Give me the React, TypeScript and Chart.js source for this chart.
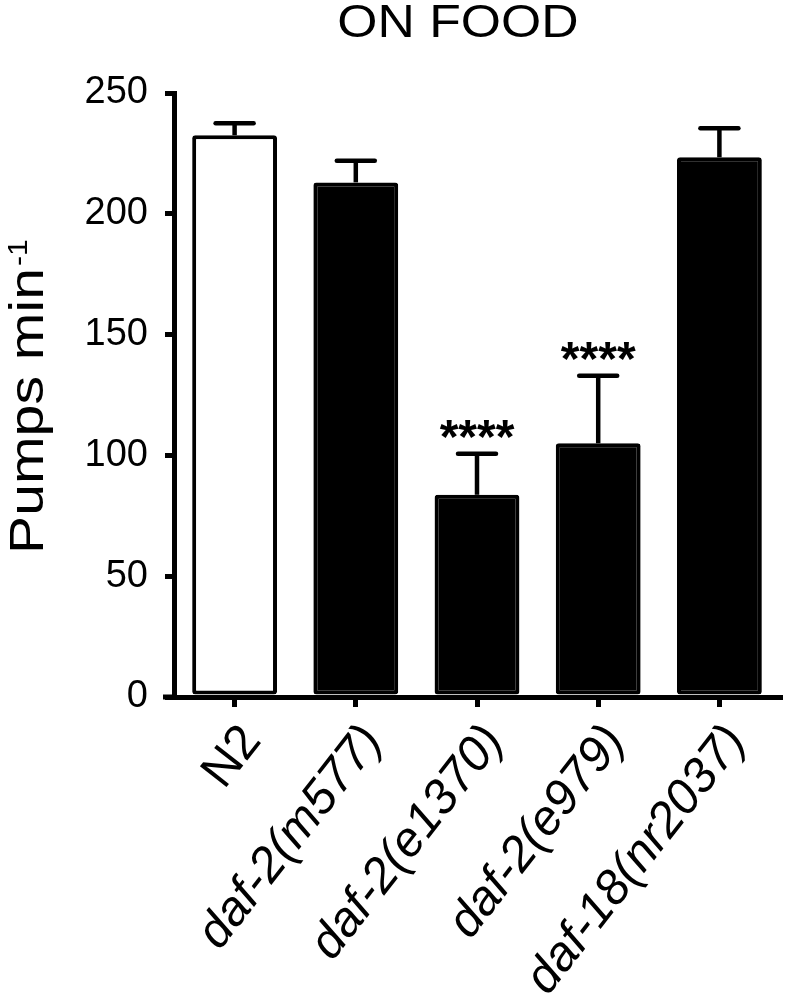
import React, { useEffect, useRef } from "react";
import { Chart, registerables } from "chart.js";

Chart.register(...registerables);

const categories = ["N2", "daf-2(m577)", "daf-2(e1370)", "daf-2(e979)", "daf-18(nr2037)"];
const italicLabels = [false, true, true, true, true];
const meanValues = [232.5, 213, 83.7, 105, 223.4];
const semValues = [5, 9, 17, 28, 12];
const significance = ["", "", "****", "****", ""];
const barFills = ["#ffffff", "#000000", "#000000", "#000000", "#000000"];
const yTickValues = [0, 50, 100, 150, 200, 250];

const FONT = "'Liberation Sans', Arial, Helvetica, sans-serif";
const LABEL_ANGLE = (52 * Math.PI) / 180;

const overlayPlugin = {
  id: "overlay",
  afterDatasetsDraw(chart: any) {
    const ctx = chart.ctx;
    const x = chart.scales.x;
    const y = chart.scales.y;
    ctx.save();
    ctx.strokeStyle = "#000";
    ctx.fillStyle = "#000";
    meanValues.forEach((m, i) => {
      const cx = x.getPixelForValue(i);
      const yBar = y.getPixelForValue(m);
      const yTop = y.getPixelForValue(m + semValues[i]);
      ctx.lineWidth = 4.5;
      ctx.lineCap = "butt";
      ctx.beginPath();
      ctx.moveTo(cx, yBar);
      ctx.lineTo(cx, yTop);
      ctx.stroke();
      ctx.lineCap = "round";
      ctx.beginPath();
      ctx.moveTo(cx - 19, yTop);
      ctx.lineTo(cx + 19, yTop);
      ctx.stroke();
      if (significance[i]) {
        ctx.font = `bold 48px ${FONT}`;
        ctx.textAlign = "center";
        ctx.textBaseline = "alphabetic";
        ctx.fillText(significance[i], cx, yTop - 1);
      }
    });
    ctx.restore();
  },
  afterDraw(chart: any) {
    const ctx = chart.ctx;
    const x = chart.scales.x;
    const y = chart.scales.y;
    const area = chart.chartArea;
    const axisY = y.getPixelForValue(0);
    ctx.save();
    ctx.fillStyle = "#000";
    ctx.strokeStyle = "#000";
    ctx.lineWidth = 5;
    ctx.beginPath();
    ctx.moveTo(area.left - 11, axisY);
    ctx.lineTo(area.left, axisY);
    ctx.stroke();

    // title
    ctx.save();
    ctx.font = `47px ${FONT}`;
    ctx.textAlign = "center";
    ctx.textBaseline = "alphabetic";
    ctx.translate(458, 37);
    ctx.scale(1.1, 1);
    ctx.fillText("ON FOOD", 0, 0);
    ctx.restore();

    // x labels
    categories.forEach((lab, i) => {
      const cx = x.getPixelForValue(i);
      ctx.save();
      ctx.translate(cx + 28, axisY + 44);
      ctx.rotate(-LABEL_ANGLE);
      ctx.font = `${italicLabels[i] ? "italic " : ""}49px ${FONT}`;
      ctx.textAlign = "right";
      ctx.textBaseline = "alphabetic";
      ctx.fillText(lab, 0, 0);
      ctx.restore();
    });

    // y title
    ctx.save();
    ctx.translate(43, 554);
    ctx.rotate(-Math.PI / 2);
    ctx.font = `49px ${FONT}`;
    const main = "Pumps min";
    const w = ctx.measureText(main).width;
    const sx = 286 / w;
    ctx.save();
    ctx.scale(sx, 1);
    ctx.textAlign = "left";
    ctx.textBaseline = "alphabetic";
    ctx.fillText(main, 0, 0);
    ctx.restore();
    ctx.save();
    ctx.translate(286 + 2, -16);
    ctx.scale(1.12, 1);
    ctx.font = `27px ${FONT}`;
    ctx.textAlign = "left";
    ctx.textBaseline = "alphabetic";
    ctx.fillText("-1", 0, 0);
    ctx.restore();
    ctx.restore();
    ctx.restore();
  },
};

export default function App() {
  const ref = useRef<HTMLCanvasElement | null>(null);
  useEffect(() => {
    if (!ref.current) return;
    const chart = new Chart(ref.current, {
      type: "bar",
      data: {
        labels: categories,
        datasets: [
          {
            data: meanValues,
            backgroundColor: barFills,
            borderColor: "#000",
            borderWidth: 4,
            borderRadius: 3,
            borderSkipped: false,
            barPercentage: 0.7,
            categoryPercentage: 1.0,
          },
        ],
      },
      options: {
        responsive: false,
        animation: false,
        layout: { padding: { top: 93, right: 6, left: 0, bottom: 0 } },
        plugins: { legend: { display: false }, title: { display: false }, tooltip: { enabled: false } },
        scales: {
          x: {
            type: "category",
            grid: {
              display: true,
              drawOnChartArea: false,
              drawTicks: true,
              tickLength: 10,
              lineWidth: 5,
              color: "#000",
              offset: false,
            },
            border: { display: true, width: 5, color: "#000" },
            ticks: { display: false },
            afterFit: (s: any) => {
              s.height = 1006 - 697;
            },
          },
          y: {
            min: 0,
            max: 250,
            afterBuildTicks: (s: any) => {
              s.ticks = yTickValues.map((v) => ({ value: v }));
            },
            grid: {
              display: true,
              drawOnChartArea: false,
              drawTicks: true,
              tickLength: 9,
              lineWidth: 5,
              color: "#000",
            },
            border: { display: true, width: 5, color: "#000" },
            ticks: {
              color: "#000",
              padding: 17,
              font: { family: FONT, size: 38 },
            },
            afterFit: (s: any) => {
              s.width = 174;
            },
          },
        },
      },
      plugins: [overlayPlugin],
    });
    return () => chart.destroy();
  }, []);
  return (
    <div style={{ position: "fixed", left: 0, top: 0, width: 786, height: 1006, background: "#fff" }}>
      <canvas ref={ref} width={786} height={1006} style={{ display: "block" }} />
    </div>
  );
}
